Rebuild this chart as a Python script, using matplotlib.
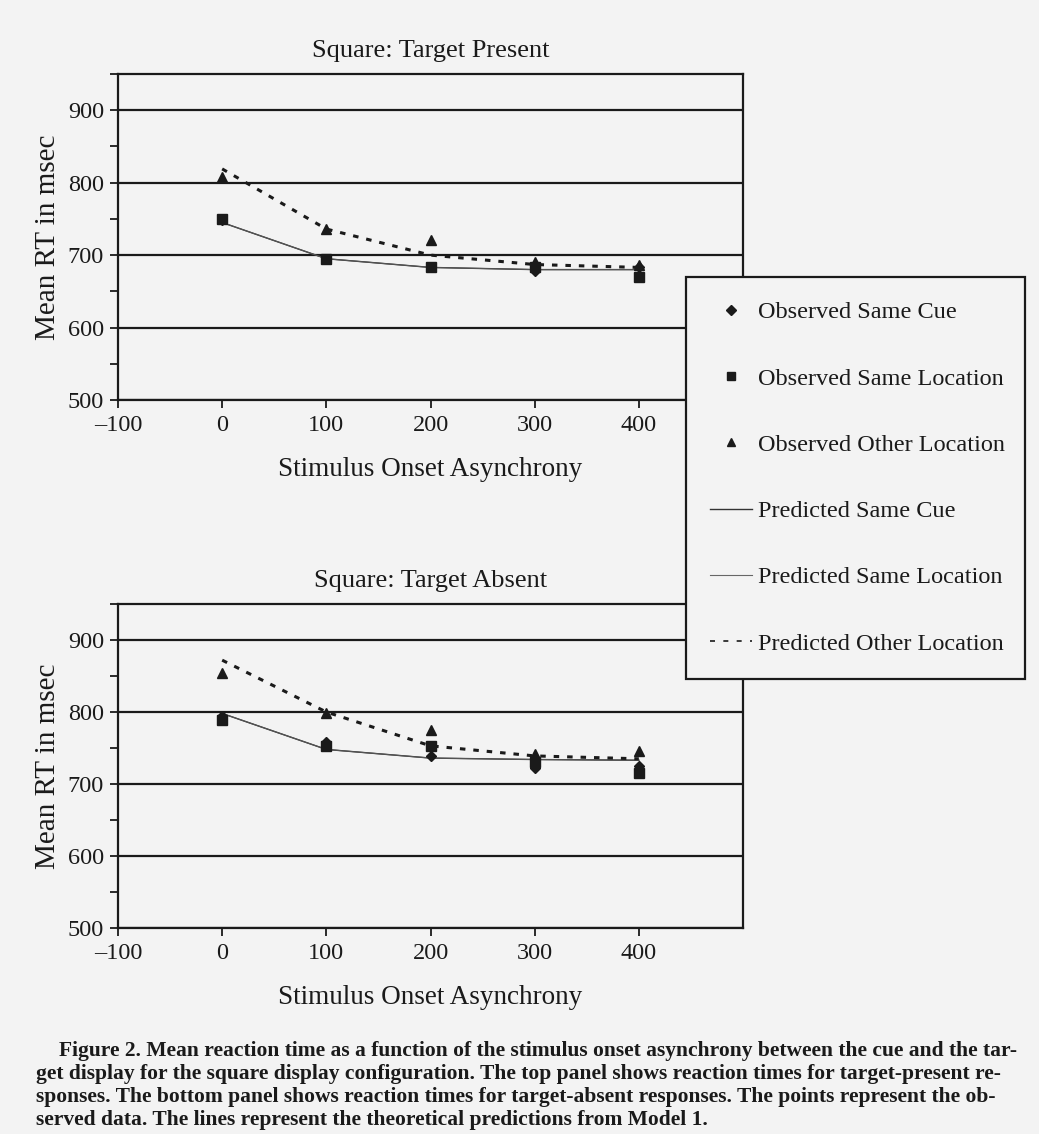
import matplotlib
matplotlib.use("Agg")
import matplotlib.pyplot as plt
from matplotlib.lines import Line2D
from matplotlib.ticker import MultipleLocator

# Données
soa = [0, 100, 200, 300, 400]

# panneau haut : cible présente
tp_obs_cue = [748, 694, 683, 678, 684]
tp_obs_loc = [750, 694, 683, 683, 670]
tp_obs_other = [808, 736, 721, 690, 686]
tp_pred_cue = [745, 695, 683, 680, 680]
tp_pred_loc = [745, 695, 683, 680, 680]
tp_pred_other = [819, 736, 700, 687, 683]

# panneau bas : cible absente
ta_obs_cue = [795, 758, 739, 722, 725]
ta_obs_loc = [789, 753, 753, 730, 715]
ta_obs_other = [854, 798, 775, 742, 746]
ta_pred_cue = [798, 748, 736, 734, 733]
ta_pred_loc = [798, 748, 736, 734, 733]
ta_pred_other = [872, 800, 753, 739, 735]

labels = ["Observed Same Cue", "Observed Same Location", "Observed Other Location",
          "Predicted Same Cue", "Predicted Same Location", "Predicted Other Location"]

caption = [
    "Figure 2. Mean reaction time as a function of the stimulus onset asynchrony between the cue and the tar-",
    "get display for the square display configuration. The top panel shows reaction times for target-present re-",
    "sponses. The bottom panel shows reaction times for target-absent responses. The points represent the ob-",
    "served data. The lines represent the theoretical predictions from Model 1.",
]

bg = "#f3f3f3"
ink = "#1a1a1a"
plt.rcParams["font.family"] = ["Liberation Serif", "DejaVu Serif"]

W, H = 1039, 1134
fig = plt.figure(figsize=(W / 100, H / 100), dpi=100, facecolor=bg)


def panel(rect, title, obs_cue, obs_loc, obs_other, pred_cue, pred_loc, pred_other):
    ax = fig.add_axes(rect, facecolor=bg)
    ax.plot(soa, pred_cue, color="#333333", lw=1.0, zorder=3)
    ax.plot(soa, pred_loc, color="#555555", lw=0.8, zorder=3)
    ax.plot(soa, pred_other, color=ink, lw=2.2, dashes=(1.8, 2.6), zorder=3)
    ax.plot(soa, obs_other, ls="none", marker="^", ms=7.5, color=ink, zorder=4)
    ax.plot(soa, obs_loc, ls="none", marker="s", ms=6.5, color=ink, zorder=4)
    ax.plot(soa, obs_cue, ls="none", marker="D", ms=5.5, color=ink, zorder=4)
    ax.set_xlim(-100, 500)
    ax.set_ylim(500, 950)
    ax.set_xticks(range(-100, 500, 100))
    ax.set_xticklabels(["\u2013100", "0", "100", "200", "300", "400"])
    ax.set_yticks(range(500, 1000, 100))
    ax.yaxis.set_minor_locator(MultipleLocator(50))
    ax.tick_params(axis="both", which="both", direction="out", color=ink, width=1.3,
                   labelsize=17.5, labelcolor=ink)
    ax.tick_params(axis="y", which="both", length=6, pad=4)
    ax.tick_params(axis="x", length=6, pad=5)
    ax.grid(True, axis="y", which="major", color=ink, lw=1.6, zorder=1)
    ax.set_axisbelow(True)
    for s in ax.spines.values():
        s.set_color(ink)
        s.set_linewidth(1.6)
    ax.set_xlabel("Stimulus Onset Asynchrony", fontsize=19.5, color=ink, labelpad=15)
    ax.set_ylabel("Mean RT in msec", fontsize=21, color=ink, labelpad=5)
    ax.set_title(title, fontsize=19, color=ink, pad=12)
    return ax


def box(l, r, t, b):
    return [l / W, 1 - b / H, (r - l) / W, (b - t) / H]


panel(box(118, 743, 74, 400), "Square: Target Present",
      tp_obs_cue, tp_obs_loc, tp_obs_other, tp_pred_cue, tp_pred_loc, tp_pred_other)
panel(box(118, 743, 604, 928), "Square: Target Absent",
      ta_obs_cue, ta_obs_loc, ta_obs_other, ta_pred_cue, ta_pred_loc, ta_pred_other)

handles = [
    Line2D([], [], ls="none", marker="D", ms=5, color=ink),
    Line2D([], [], ls="none", marker="s", ms=6, color=ink),
    Line2D([], [], ls="none", marker="^", ms=6, color=ink),
    Line2D([], [], color="#333333", lw=1.0),
    Line2D([], [], color="#666666", lw=0.8),
    Line2D([], [], color=ink, lw=1.2, dashes=(3, 5)),
]
leg = fig.legend(handles, labels, loc="upper left",
                 bbox_to_anchor=(686 / W, 1 - 277 / H - 0.01, (1025 - 686) / W, 0.01),
                 mode="expand", fontsize=17.5, frameon=True, fancybox=False,
                 edgecolor=ink, facecolor=bg, framealpha=1, labelspacing=1.82,
                 handlelength=1.7, handletextpad=0.25, borderpad=1.0, borderaxespad=0)
leg.get_frame().set_linewidth(1.6)
for t in leg.get_texts():
    t.set_color(ink)

ys = [1051, 1074, 1097, 1120]
for i, (line, y) in enumerate(zip(caption, ys)):
    x = 59 if i == 0 else 36
    fig.text(x / W, 1 - y / H, line, fontsize=15.5, fontweight="bold", color=ink,
             va="center", ha="left")

fig.savefig("out.png", dpi=100, facecolor=bg)
